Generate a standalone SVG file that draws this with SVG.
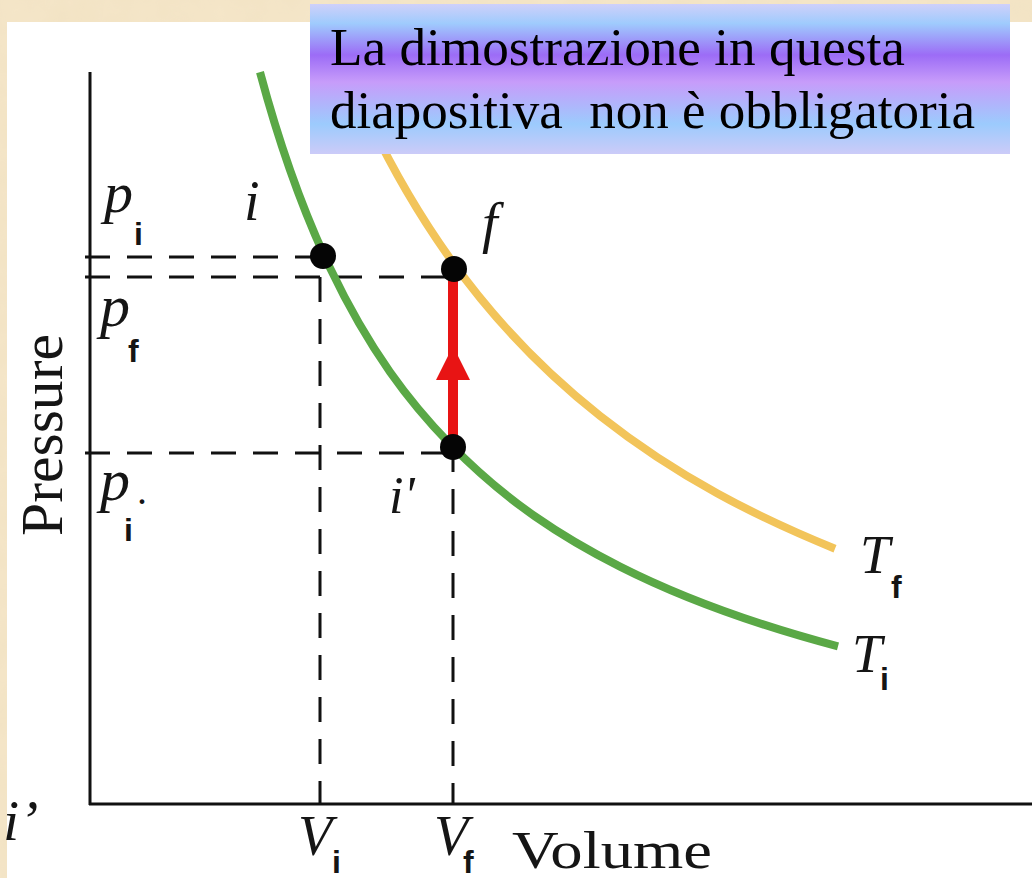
<svg xmlns="http://www.w3.org/2000/svg" width="1032" height="878" viewBox="0 0 1032 878">
  <defs>
    <linearGradient id="boxGrad" x1="0" y1="0" x2="0" y2="1">
      <stop offset="0" stop-color="#cfd0fa"/>
      <stop offset="0.13" stop-color="#9fcbfd"/>
      <stop offset="0.34" stop-color="#9c6cf6"/>
      <stop offset="0.52" stop-color="#c79cfa"/>
      <stop offset="0.8" stop-color="#9ccbfd"/>
      <stop offset="1" stop-color="#cccbf8"/>
    </linearGradient>
    <filter id="paper" x="0" y="0" width="100%" height="100%">
      <feTurbulence type="fractalNoise" baseFrequency="0.03" numOctaves="3" seed="4" result="n"/>
      <feColorMatrix in="n" type="matrix" values="0 0 0 0 0.86  0 0 0 0 0.74  0 0 0 0 0.52  0 0 0 0.55 0" result="c"/>
      <feComposite in="c" in2="SourceGraphic" operator="in" result="t"/>
      <feMerge><feMergeNode in="SourceGraphic"/><feMergeNode in="t"/></feMerge>
    </filter>
    <style>
      .axis { stroke: #111; stroke-width: 3; fill: none; }
      .dash { stroke: #111; stroke-width: 3; fill: none; stroke-dasharray: 25 17; }
      .iso { fill: none; stroke-width: 8; stroke-linecap: butt; }
      .dot { fill: #050505; }
      .it { font-family: "Liberation Serif", "Times New Roman", serif; font-style: italic; fill: #151515; }
      .rm { font-family: "Liberation Serif", "Times New Roman", serif; fill: #151515; }
      .sub { font-family: "Liberation Sans", Arial, sans-serif; font-weight: bold; font-size: 32px; fill: #151515; }
      .note { font-family: "Liberation Serif", "Times New Roman", serif; font-size: 52px; fill: #000; white-space: pre; }
    </style>
  </defs>

  <!-- background -->
  <rect x="0" y="0" width="1032" height="878" fill="#f5e6c9" filter="url(#paper)"/>
  <rect x="7" y="22" width="1025" height="856" fill="#ffffff"/>

  <!-- axes -->
  <g id="axes">
    <path class="axis" d="M90,72 V805"/>
    <path class="axis" d="M89,804 H1032"/>
  </g>

  <!-- connectors: guide lines, isotherms, process arrow -->
  <g id="connectors">
    <path class="dash" d="M85,257 H323"/>
    <path class="dash" d="M85,277 H453"/>
    <path class="dash" d="M85,453 H453"/>
    <path class="dash" d="M320,277 V804"/>
    <path class="dash" d="M453,447 V804"/>
    <path id="isoTf" class="iso" stroke="#f2c45a" stroke-width="7" d="M370,122.3 C396.7,177.5 423.3,221.1 450,258.4 C500,328.4 550,376.5 600,415.8 C678.3,477.5 756.7,516.9 835,548.7"/>
    <path id="isoTi" class="iso" stroke="#5aa846" d="M260,72.1 C283.3,159.1 306.7,218.9 330,267.9 C370,351.7 410,402.9 450,444 C506.7,502.2 563.3,537.9 620,566.6 C692.7,603.4 765.3,627.1 838,646.4"/>
    <g id="process">
      <path d="M453,447 V272" stroke="#e81414" stroke-width="10" fill="none"/>
      <polygon points="453,346 436,380 470,380" fill="#e81414"/>
    </g>
  </g>

  <!-- state points -->
  <g id="point-i"><circle class="dot" cx="323" cy="256" r="13"/></g>
  <g id="point-f"><circle class="dot" cx="454" cy="269" r="13"/></g>
  <g id="point-i2"><circle class="dot" cx="453" cy="447" r="13"/></g>

  <!-- labels -->
  <g id="label-pi-top"><text class="it" x="104" y="212" font-size="58">p</text><text class="sub" x="134" y="245">i</text></g>
  <g id="label-pf"><text class="it" x="100" y="326" font-size="60">p</text><text class="sub" x="128" y="362">f</text></g>
  <g id="label-pi-bottom"><text class="it" x="100" y="500" font-size="60">p</text><text class="rm" x="137" y="504" font-size="40">.</text><text class="sub" x="124" y="541">i</text></g>
  <g id="label-i"><text class="it" x="244" y="220" font-size="56">i</text></g>
  <g id="label-f"><text class="it" x="482" y="242" font-size="56">f</text></g>
  <g id="label-i-prime"><text class="it" x="389" y="513" font-size="52">i'</text></g>
  <g id="label-Tf"><text class="it" x="860" y="573" font-size="54">T</text><text class="sub" x="891" y="598">f</text></g>
  <g id="label-Ti"><text class="it" x="852" y="672" font-size="54">T</text><text class="sub" x="880" y="690">i</text></g>
  <g id="label-Vi"><text class="it" x="298" y="855" font-size="56">V</text><text class="sub" x="332" y="873">i</text></g>
  <g id="label-Vf"><text class="it" x="434" y="855" font-size="56">V</text><text class="sub" x="463" y="873">f</text></g>
  <g id="label-volume"><text class="rm" x="512" y="868" font-size="53" textLength="200" lengthAdjust="spacingAndGlyphs">Volume</text></g>
  <g id="label-pressure"><text class="rm" transform="translate(62,435) rotate(-90)" x="0" y="0" font-size="60" text-anchor="middle" textLength="202" lengthAdjust="spacingAndGlyphs">Pressure</text></g>
  <g id="label-i-left"><text class="it" x="3" y="840" font-size="58">i’</text></g>

  <!-- note box -->
  <g id="note">
    <rect x="310" y="4" width="700" height="150" fill="url(#boxGrad)"/>
    <text class="note" x="330" y="65" textLength="575" lengthAdjust="spacingAndGlyphs">La dimostrazione in questa</text>
    <text class="note" x="330" y="128" xml:space="preserve" textLength="645" lengthAdjust="spacingAndGlyphs">diapositiva  non è obbligatoria</text>
  </g>
</svg>
